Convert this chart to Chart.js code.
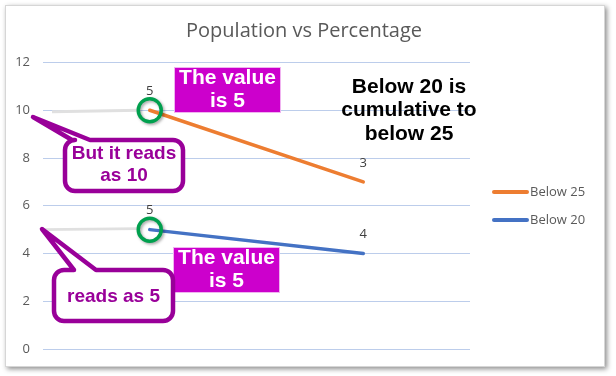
<!DOCTYPE html>
<html>
<head>
<meta charset="utf-8">
<script src="https://cdn.jsdelivr.net/npm/chart.js@4/dist/chart.umd.min.js"></script>
<style>
  html, body { margin: 0; padding: 0; background: #ffffff; overflow: hidden; }
  #c { display: block; }
</style>
</head>
<body>
<canvas id="c" width="616" height="376"></canvas>
<script>
// ---- data ----
const categories = ['', ''];
const below20 = [5, 4];
const below25 = [5, 3];
const seriesNames = ['Below 20', 'Below 25'];
const seriesColors = ['#4472C4', '#ED7D31'];
const yTickLabels = [0, 2, 4, 6, 8, 10, 12];
const chartTitle = 'Population vs Percentage';

// ---- annotation texts ----
const noteValueText = ['The value', 'is 5'];
const noteReadsTop = ['But it reads', 'as 10'];
const noteReadsBottom = ['reads as 5'];
const noteCumulative = ['Below 20 is', 'cumulative to', 'below 25'];

const GRID = '#BCCDEB';
const MAGENTA = '#CC00CC';
const PURPLE = '#990099';
const GREEN = '#00A04E';

// white card with a soft drop shadow
const cardPlugin = {
  id: 'card',
  beforeDraw(chart) {
    const ctx = chart.ctx;
    ctx.save();
    ctx.fillStyle = '#ffffff';
    ctx.fillRect(0, 0, chart.width, chart.height);
    ctx.shadowColor = 'rgba(0,0,0,0.45)';
    ctx.shadowBlur = 5;
    ctx.shadowOffsetX = 2;
    ctx.shadowOffsetY = 2;
    ctx.fillStyle = '#ffffff';
    ctx.fillRect(5, 5, 600, 362);
    ctx.restore();
    ctx.save();
    ctx.strokeStyle = '#d6d6d6';
    ctx.lineWidth = 1;
    ctx.strokeRect(5.5, 5.5, 599, 361);
    ctx.restore();
  }
};

// faint guide lines from the axis to the first point of each series
const guidePlugin = {
  id: 'guides',
  beforeDatasetsDraw(chart) {
    const ctx = chart.ctx;
    const area = chart.chartArea;
    const top = chart.getDatasetMeta(1).data[0];
    const bot = chart.getDatasetMeta(0).data[0];
    ctx.save();
    ctx.strokeStyle = '#e0e0e0';
    ctx.lineWidth = 3;
    ctx.beginPath();
    ctx.moveTo(area.left + 9, top.y + 1.5);
    ctx.lineTo(top.x - 10, top.y);
    ctx.moveTo(area.left - 1, bot.y);
    ctx.lineTo(bot.x - 10, bot.y - 1);
    ctx.stroke();
    ctx.restore();
  }
};

// value labels above each point
const valueLabelPlugin = {
  id: 'valueLabels',
  afterDatasetsDraw(chart) {
    const ctx = chart.ctx;
    ctx.save();
    ctx.font = '13px "Open Sans", sans-serif';
    ctx.fillStyle = '#404040';
    ctx.textAlign = 'center';
    ctx.textBaseline = 'middle';
    chart.data.datasets.forEach((ds, i) => {
      chart.getDatasetMeta(i).data.forEach((pt, j) => {
        ctx.fillText(String(ds.data[j]), pt.x, pt.y - 19);
      });
    });
    ctx.restore();
  }
};

function callout(ctx, b, lines) {
  const r = 10;
  ctx.save();
  ctx.beginPath();
  ctx.moveTo(b.x + r, b.y);
  ctx.lineTo(b.b1, b.y);
  ctx.lineTo(b.tx, b.ty);
  ctx.lineTo(b.b2, b.y);
  ctx.lineTo(b.x + b.w - r, b.y);
  ctx.arcTo(b.x + b.w, b.y, b.x + b.w, b.y + r, r);
  ctx.lineTo(b.x + b.w, b.y + b.h - r);
  ctx.arcTo(b.x + b.w, b.y + b.h, b.x + b.w - r, b.y + b.h, r);
  ctx.lineTo(b.x + r, b.y + b.h);
  ctx.arcTo(b.x, b.y + b.h, b.x, b.y + b.h - r, r);
  ctx.lineTo(b.x, b.y + r);
  ctx.arcTo(b.x, b.y, b.x + r, b.y, r);
  ctx.closePath();
  ctx.fillStyle = '#ffffff';
  ctx.fill();
  ctx.lineJoin = 'round';
  ctx.lineWidth = 4.5;
  ctx.strokeStyle = PURPLE;
  ctx.stroke();
  ctx.fillStyle = PURPLE;
  ctx.font = 'bold 19px "Liberation Sans", Arial, sans-serif';
  ctx.textAlign = 'center';
  ctx.textBaseline = 'middle';
  lines.forEach((t, i) => ctx.fillText(t, b.cx, b.cy + i * 22));
  ctx.restore();
}

function magentaBox(ctx, x, y, w, h, lines) {
  ctx.save();
  ctx.fillStyle = MAGENTA;
  ctx.fillRect(x, y, w, h);
  ctx.strokeStyle = 'rgba(255,255,255,0.7)';
  ctx.lineWidth = 1;
  ctx.strokeRect(x + 0.5, y + 0.5, w - 1, h - 1);
  ctx.fillStyle = '#ffffff';
  ctx.font = 'bold 21px "Liberation Sans", Arial, sans-serif';
  ctx.textAlign = 'center';
  ctx.textBaseline = 'middle';
  lines.forEach((t, i) => ctx.fillText(t, x + w / 2, y + 11 + i * 23));
  ctx.restore();
}

const notesPlugin = {
  id: 'notes',
  afterDraw(chart) {
    const ctx = chart.ctx;

    // green rings on the first point of each series
    [1, 0].forEach(i => {
      const p = chart.getDatasetMeta(i).data[0];
      ctx.save();
      ctx.shadowColor = 'rgba(0,0,0,0.35)';
      ctx.shadowBlur = 3;
      ctx.shadowOffsetX = 1.5;
      ctx.shadowOffsetY = 1.5;
      ctx.strokeStyle = GREEN;
      ctx.lineWidth = 3.5;
      ctx.beginPath();
      ctx.arc(p.x, p.y, 11.5, 0, Math.PI * 2);
      ctx.stroke();
      ctx.restore();
    });

    magentaBox(ctx, 174, 67, 107, 46, noteValueText);
    magentaBox(ctx, 173, 247, 107, 46, noteValueText);

    callout(ctx, { x: 65, y: 140, w: 118, h: 51, b1: 72, b2: 90, tx: 33, ty: 117, cx: 124, cy: 154 }, noteReadsTop);
    callout(ctx, { x: 54, y: 270, w: 119, h: 51, b1: 74, b2: 96, tx: 42, ty: 229, cx: 113.5, cy: 297 }, noteReadsBottom);

    // cumulative note
    ctx.save();
    ctx.fillStyle = '#000000';
    ctx.font = 'bold 21px "Liberation Sans", Arial, sans-serif';
    ctx.textAlign = 'center';
    ctx.textBaseline = 'middle';
    noteCumulative.forEach((t, i) => ctx.fillText(t, 409, 87 + i * 23.5));
    ctx.restore();

    // legend (series listed top-down as stacked)
    ctx.save();
    ctx.font = '13px "Open Sans", sans-serif';
    ctx.textBaseline = 'middle';
    ctx.textAlign = 'left';
    [1, 0].forEach((i, k) => {
      const y = 192 + k * 28;
      const ds = chart.data.datasets[i];
      ctx.strokeStyle = ds.borderColor;
      ctx.lineWidth = 4;
      ctx.lineCap = 'round';
      ctx.beginPath();
      ctx.moveTo(494, y);
      ctx.lineTo(527, y);
      ctx.stroke();
      ctx.fillStyle = '#595959';
      ctx.fillText(ds.label, 530, y);
    });
    ctx.restore();
  }
};

new Chart(document.getElementById('c'), {
  type: 'line',
  data: {
    labels: categories,
    datasets: [
      { label: seriesNames[0], data: below20, borderColor: seriesColors[0], backgroundColor: seriesColors[0] },
      { label: seriesNames[1], data: below25, borderColor: seriesColors[1], backgroundColor: seriesColors[1] }
    ]
  },
  options: {
    responsive: false,
    devicePixelRatio: 1,
    animation: false,
    layout: { padding: { left: 0, right: 8, top: 0, bottom: 27 } },
    elements: {
      line: { borderWidth: 3.5, borderCapStyle: 'round', tension: 0, fill: false },
      point: { radius: 0, hoverRadius: 0 }
    },
    plugins: {
      legend: { display: false },
      tooltip: { enabled: false },
      title: {
        display: true,
        text: chartTitle,
        color: '#595959',
        font: { family: '"Open Sans", sans-serif', size: 20, weight: 'normal', lineHeight: 1.2 },
        padding: { top: 19, bottom: 19.5 }
      }
    },
    scales: {
      x: {
        display: false,
        offset: true
      },
      y: {
        stacked: true,
        min: 0,
        max: 12,
        afterBuildTicks: s => { s.ticks = yTickLabels.map(v => ({ value: v })); },
        afterFit: s => { s.width = 43; },
        grid: { color: GRID, lineWidth: 1, drawTicks: false },
        border: { display: false },
        ticks: {
          color: '#595959',
          padding: 13,
          font: { family: '"Open Sans", sans-serif', size: 13 }
        }
      },
      y2: {
        position: 'right',
        display: true,
        grid: { display: false },
        border: { display: false },
        ticks: { display: false },
        afterFit: s => { s.width = 138; }
      }
    }
  },
  plugins: [cardPlugin, guidePlugin, valueLabelPlugin, notesPlugin]
});
</script>
</body>
</html>
